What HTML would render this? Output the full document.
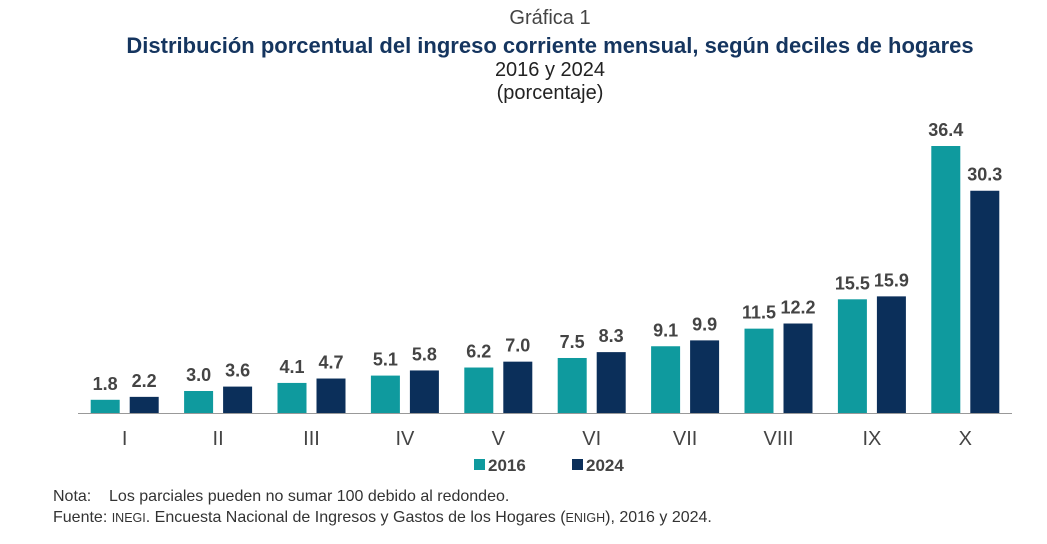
<!DOCTYPE html>
<html><head><meta charset="utf-8"><style>
body{margin:0;width:1047px;height:544px;background:#fff;font-family:"Liberation Sans",sans-serif;overflow:hidden;position:relative}
.t{position:absolute;left:0;width:1100px;text-align:center;color:#333}
</style></head><body>
<div class="t" style="top:7px;font-size:20px;color:#444">Gráfica 1</div>
<div class="t" style="top:33px;font-size:22px;font-weight:bold;color:#15355f">Distribución porcentual del ingreso corriente mensual, según deciles de hogares</div>
<div class="t" style="top:59px;font-size:20px;color:#222">2016 y 2024</div>
<div class="t" style="top:82px;font-size:20px;color:#222">(porcentaje)</div>
<svg id="c" width="1047" height="544" style="position:absolute;left:0;top:0"></svg>
<div style="position:absolute;left:53px;top:488px;font-size:16px;color:#333">Nota:&nbsp;&nbsp;&nbsp; Los parciales pueden no sumar 100 debido al redondeo.</div>
<div style="position:absolute;left:53px;top:509px;font-size:16px;color:#333">Fuente: <span style="font-size:12.5px">INEGI</span>. Encuesta Nacional de Ingresos y Gastos de los Hogares (<span style="font-size:12.5px">ENIGH</span>), 2016 y 2024.</div>
<script>
const categories=["I","II","III","IV","V","VI","VII","VIII","IX","X"];
const values2016=[1.8,3.0,4.1,5.1,6.2,7.5,9.1,11.5,15.5,36.4];
const values2024=[2.2,3.6,4.7,5.8,7.0,8.3,9.9,12.2,15.9,30.3];
const seriesNames=["2016","2024"];
const colors=["#0f9a9e","#0b2f5a"];
const svg=document.getElementById('c');const NS="http://www.w3.org/2000/svg";
const x0=78,x1=1012,base=413,k=7.335,band=(x1-x0)/categories.length,bw=29,gap=10;
const y=v=>base-v*k;
function mk(t,a){const e=document.createElementNS(NS,t);for(const n in a)e.setAttribute(n,a[n]);svg.appendChild(e);return e;}
[values2016,values2024].forEach((vals,s)=>{
 vals.forEach((v,i)=>{
  const cx=x0+band*(i+0.5);const bx=s===0?cx-gap/2-bw:cx+gap/2;
  const r=mk('rect',{x:bx,y:y(v),width:bw,height:base-y(v),fill:colors[s]});
  
  
  const t=mk('text',{x:bx+bw/2,y:y(v)-10,'text-anchor':'middle','font-size':18,'font-weight':'bold',fill:'#444','font-family':'Liberation Sans'});
  t.textContent=v.toFixed(1);
  
  
 });
});
const ax=mk('line',{x1:x0,x2:x1,y1:base+0.5,y2:base+0.5,stroke:'#999','stroke-width':1});


categories.forEach((c,i)=>{
 const t=mk('text',{x:x0+band*(i+0.5),y:445,'text-anchor':'middle','font-size':20,fill:'#444','font-family':'Liberation Sans'});
 t.textContent=c;
 
 
});
const lx=[474,572];
seriesNames.forEach((n,s)=>{
 const r=mk('rect',{x:lx[s],y:459,width:11,height:11,fill:colors[s]});
 
 
 const t=mk('text',{x:lx[s]+14,y:471,'font-size':17,'font-weight':'bold',fill:'#444','font-family':'Liberation Sans'});
 t.textContent=n;
 
 
});
</script>
</body></html>
